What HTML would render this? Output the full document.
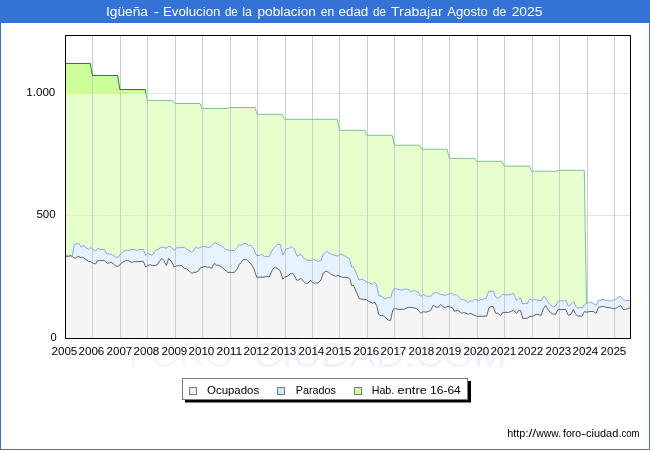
<!DOCTYPE html>
<html><head><meta charset="utf-8"><title>Chart</title>
<style>html,body{margin:0;padding:0;background:#fff;}svg{display:block;will-change:transform;}text{font-family:"Liberation Sans",sans-serif;}</style>
</head><body>
<svg width="650" height="450" viewBox="0 0 650 450">
<rect x="0" y="0" width="650" height="450" fill="#ffffff"/>
<rect x="0" y="0" width="650" height="23" fill="#3472d6"/>
<rect x="0" y="0" width="1" height="450" fill="#3472d6"/>
<rect x="649" y="0" width="1" height="450" fill="#3472d6"/>
<rect x="0" y="449" width="650" height="1" fill="#3472d6"/>
<text x="106.0" y="16" font-size="12.3" fill="#ffffff" textLength="41.9" lengthAdjust="spacingAndGlyphs">Igüeña</text>
<text x="153.6" y="16" font-size="12.3" fill="#ffffff" textLength="5.6" lengthAdjust="spacingAndGlyphs">-</text>
<text x="162.9" y="16" font-size="12.3" fill="#ffffff" textLength="57.6" lengthAdjust="spacingAndGlyphs">Evolucion</text>
<text x="224.9" y="16" font-size="12.3" fill="#ffffff" textLength="12.8" lengthAdjust="spacingAndGlyphs">de</text>
<text x="242.2" y="16" font-size="12.3" fill="#ffffff" textLength="9.8" lengthAdjust="spacingAndGlyphs">la</text>
<text x="257.5" y="16" font-size="12.3" fill="#ffffff" textLength="58.3" lengthAdjust="spacingAndGlyphs">poblacion</text>
<text x="320.8" y="16" font-size="12.3" fill="#ffffff" textLength="13.5" lengthAdjust="spacingAndGlyphs">en</text>
<text x="338.5" y="16" font-size="12.3" fill="#ffffff" textLength="29.8" lengthAdjust="spacingAndGlyphs">edad</text>
<text x="373.0" y="16" font-size="12.3" fill="#ffffff" textLength="13.0" lengthAdjust="spacingAndGlyphs">de</text>
<text x="390.9" y="16" font-size="12.3" fill="#ffffff" textLength="51.8" lengthAdjust="spacingAndGlyphs">Trabajar</text>
<text x="447.2" y="16" font-size="12.3" fill="#ffffff" textLength="40.6" lengthAdjust="spacingAndGlyphs">Agosto</text>
<text x="492.7" y="16" font-size="12.3" fill="#ffffff" textLength="13.5" lengthAdjust="spacingAndGlyphs">de</text>
<text x="511.7" y="16" font-size="12.3" fill="#ffffff" textLength="30.7" lengthAdjust="spacingAndGlyphs">2025</text>
<text x="128.5" y="367" font-size="35" fill="#f6f6f6" textLength="105" lengthAdjust="spacingAndGlyphs">FORO</text>
<text x="253.5" y="367" font-size="35" fill="#f1f1ff" textLength="253" lengthAdjust="spacingAndGlyphs">CIUDAD.COM</text>
<defs>
<clipPath id="cp"><rect x="65.5" y="35.5" width="565" height="303"/></clipPath>
<clipPath id="ctop"><rect x="65.5" y="35.5" width="565" height="58"/></clipPath>
<clipPath id="cbot"><rect x="65.5" y="93.5" width="565" height="245"/></clipPath>
</defs>
<g clip-path="url(#cp)">
<polygon points="65.5,255.8 68.3,256.4 70.6,255.6 72.2,256.4 74.8,258.4 76.7,257.2 78.9,256.4 81.1,258.0 82.8,257.2 85.6,259.4 88.3,261.3 90.6,261.7 93.3,263.3 95.6,263.9 97.8,260.6 104.4,260.6 107.2,263.0 109.4,263.0 111.1,262.2 113.3,263.9 116.1,266.3 118.9,266.1 121.1,263.3 123.9,261.4 127.2,260.2 131.7,262.4 134.4,261.7 143.3,261.4 145.8,267.2 147.6,265.6 150.0,264.7 152.2,265.6 156.7,265.3 161.7,258.3 163.9,260.6 166.4,265.6 168.7,258.3 171.1,261.1 174.4,267.0 176.7,265.8 181.7,265.6 184.4,268.3 186.9,268.9 191.7,273.3 193.9,272.4 196.7,272.0 198.3,271.1 200.6,267.8 205.0,266.4 207.2,267.2 209.4,267.2 211.7,268.3 214.4,263.3 216.7,265.3 218.9,265.3 221.3,266.7 227.8,272.4 234.4,272.4 237.2,268.9 239.4,264.4 243.6,259.4 246.4,259.4 248.9,261.7 251.7,265.0 253.9,268.9 256.7,277.2 263.9,277.2 266.7,276.1 269.1,277.2 272.2,270.3 274.4,267.4 277.2,268.3 280.1,270.6 282.8,279.2 284.4,277.2 287.8,276.1 290.6,273.6 293.3,273.9 296.7,280.2 298.9,279.8 301.1,278.3 303.3,281.1 305.6,283.3 307.8,283.3 310.6,280.2 313.3,283.1 317.8,283.1 321.1,280.0 323.3,272.8 326.1,271.1 328.3,272.2 331.1,274.4 335.6,276.3 337.8,275.4 341.7,277.2 347.8,277.5 350.0,279.4 351.7,285.6 353.5,285.6 356.1,291.1 358.9,298.3 361.1,299.1 366.1,299.4 368.3,301.1 372.8,303.3 374.7,302.2 376.7,305.6 378.7,314.4 381.1,315.9 382.8,315.2 385.6,317.8 388.3,320.3 390.6,320.3 392.8,310.0 394.4,308.3 397.8,309.2 400.0,309.4 404.4,309.2 407.8,307.4 411.1,307.4 416.1,308.3 418.3,310.3 420.9,313.3 423.3,311.7 426.1,312.2 430.6,310.6 433.3,305.2 436.1,307.2 438.3,307.2 440.6,304.4 442.8,306.7 445.6,307.6 447.8,306.4 452.2,307.6 454.4,311.1 457.8,310.3 461.7,313.3 464.4,312.5 468.5,314.4 470.0,313.3 477.2,316.4 486.7,316.1 488.9,307.8 491.1,306.4 493.3,306.7 495.6,313.3 497.8,313.3 500.6,315.6 502.8,312.4 508.9,312.4 513.3,310.2 516.7,313.3 518.9,310.2 520.7,310.6 522.8,318.3 527.2,318.3 530.0,316.4 532.8,316.1 536.7,314.2 541.1,315.3 543.3,308.9 545.6,305.6 548.3,310.0 550.6,312.8 553.3,314.2 555.6,314.2 557.8,309.8 565.6,309.4 568.3,315.3 571.1,314.2 573.3,309.4 575.6,314.2 577.8,316.1 582.2,316.1 584.4,311.5 586.4,312.2 588.9,311.7 593.3,311.4 596.1,313.3 598.6,307.2 603.3,306.4 605.6,307.2 610.6,307.8 612.8,308.6 615.6,308.6 617.8,307.2 620.6,305.6 623.3,309.4 625.6,309.4 630.0,307.8 630.5,338.5 65.5,338.5" fill="#f5f5f5"/>
<polygon points="65.5,255.8 68.3,256.4 70.6,255.6 72.2,256.4 74.4,244.4 76.7,243.9 79.1,243.3 81.1,247.2 83.1,245.3 86.1,247.8 88.7,249.4 90.6,247.2 93.1,249.4 95.6,251.1 97.8,248.3 100.0,249.4 104.4,249.4 106.7,253.9 111.1,254.2 115.6,257.0 118.3,257.2 120.6,253.9 123.3,251.5 126.1,250.4 128.9,250.3 133.9,249.2 136.4,250.6 138.3,249.7 143.3,249.4 145.8,255.6 147.8,253.3 152.2,255.3 156.1,250.0 161.1,247.4 163.9,247.2 166.1,248.3 168.9,246.1 171.1,247.2 174.4,250.2 176.7,247.8 184.4,247.4 191.7,252.4 193.3,251.1 195.6,247.4 198.3,248.3 201.7,246.7 205.0,246.4 207.2,247.4 210.0,247.2 215.0,242.2 217.2,243.9 219.4,245.0 222.2,246.1 225.6,249.4 228.9,250.2 234.4,250.6 236.7,248.3 239.4,244.4 241.1,245.3 243.9,243.3 246.4,243.6 248.5,245.3 251.1,245.6 253.3,248.3 256.7,255.6 259.4,255.3 261.7,254.4 264.4,256.4 269.4,256.4 271.7,251.1 274.4,247.2 277.8,244.4 280.2,244.4 282.8,255.0 286.1,248.9 288.9,248.3 291.3,246.4 294.4,248.9 296.9,256.1 301.1,254.4 303.6,258.0 306.7,260.0 311.7,260.6 313.9,259.4 317.8,261.3 321.1,260.6 323.3,253.9 326.7,251.3 331.1,254.2 335.0,255.3 337.8,256.1 340.2,254.2 343.9,255.3 346.7,257.2 349.4,258.7 351.7,267.2 353.3,267.2 356.1,272.8 358.9,280.0 362.2,279.1 366.1,281.5 368.5,282.7 372.5,284.2 374.5,282.2 376.7,285.0 378.7,295.6 381.7,296.3 385.6,299.1 388.3,297.2 390.6,298.1 392.2,292.2 394.4,288.3 397.8,289.2 401.7,290.2 404.4,289.2 408.3,289.2 410.6,292.2 413.3,290.3 417.8,291.9 420.6,296.3 423.3,294.4 426.7,296.3 431.1,296.1 433.3,293.3 436.1,292.2 440.6,294.4 445.6,295.3 447.8,294.4 451.7,293.3 454.4,295.3 456.1,294.4 458.9,297.2 461.7,300.0 463.3,299.2 468.3,302.4 470.6,300.6 472.2,301.4 475.0,299.1 478.3,300.6 482.2,299.4 486.1,298.3 488.7,291.3 493.3,291.3 495.6,297.2 497.8,298.3 500.6,296.7 502.8,294.2 505.0,295.0 511.1,294.4 513.3,293.3 516.7,300.6 518.9,298.3 520.7,298.3 522.8,304.0 525.6,303.2 527.2,304.0 529.4,299.4 531.1,299.4 532.2,300.6 534.4,299.4 536.7,300.2 541.1,300.6 543.6,296.4 545.6,297.8 548.3,302.8 550.6,304.7 552.8,307.0 555.6,306.1 557.8,301.7 560.6,300.6 563.3,301.1 565.8,300.3 568.3,306.1 571.1,304.4 573.6,301.4 575.6,306.1 577.8,308.3 580.3,307.2 582.5,308.0 584.4,304.7 586.7,303.2 588.9,302.2 591.7,302.4 596.1,305.3 598.3,300.6 603.3,299.4 605.6,300.3 607.8,300.3 610.0,301.3 612.8,300.0 615.6,299.4 618.3,297.2 620.8,296.4 623.3,300.0 625.6,300.6 630.0,300.6 630.0,307.8 625.6,309.4 623.3,309.4 620.6,305.6 617.8,307.2 615.6,308.6 612.8,308.6 610.6,307.8 605.6,307.2 603.3,306.4 598.6,307.2 596.1,313.3 593.3,311.4 588.9,311.7 586.4,312.2 584.4,311.5 582.2,316.1 577.8,316.1 575.6,314.2 573.3,309.4 571.1,314.2 568.3,315.3 565.6,309.4 557.8,309.8 555.6,314.2 553.3,314.2 550.6,312.8 548.3,310.0 545.6,305.6 543.3,308.9 541.1,315.3 536.7,314.2 532.8,316.1 530.0,316.4 527.2,318.3 522.8,318.3 520.7,310.6 518.9,310.2 516.7,313.3 513.3,310.2 508.9,312.4 502.8,312.4 500.6,315.6 497.8,313.3 495.6,313.3 493.3,306.7 491.1,306.4 488.9,307.8 486.7,316.1 477.2,316.4 470.0,313.3 468.5,314.4 464.4,312.5 461.7,313.3 457.8,310.3 454.4,311.1 452.2,307.6 447.8,306.4 445.6,307.6 442.8,306.7 440.6,304.4 438.3,307.2 436.1,307.2 433.3,305.2 430.6,310.6 426.1,312.2 423.3,311.7 420.9,313.3 418.3,310.3 416.1,308.3 411.1,307.4 407.8,307.4 404.4,309.2 400.0,309.4 397.8,309.2 394.4,308.3 392.8,310.0 390.6,320.3 388.3,320.3 385.6,317.8 382.8,315.2 381.1,315.9 378.7,314.4 376.7,305.6 374.7,302.2 372.8,303.3 368.3,301.1 366.1,299.4 361.1,299.1 358.9,298.3 356.1,291.1 353.5,285.6 351.7,285.6 350.0,279.4 347.8,277.5 341.7,277.2 337.8,275.4 335.6,276.3 331.1,274.4 328.3,272.2 326.1,271.1 323.3,272.8 321.1,280.0 317.8,283.1 313.3,283.1 310.6,280.2 307.8,283.3 305.6,283.3 303.3,281.1 301.1,278.3 298.9,279.8 296.7,280.2 293.3,273.9 290.6,273.6 287.8,276.1 284.4,277.2 282.8,279.2 280.1,270.6 277.2,268.3 274.4,267.4 272.2,270.3 269.1,277.2 266.7,276.1 263.9,277.2 256.7,277.2 253.9,268.9 251.7,265.0 248.9,261.7 246.4,259.4 243.6,259.4 239.4,264.4 237.2,268.9 234.4,272.4 227.8,272.4 221.3,266.7 218.9,265.3 216.7,265.3 214.4,263.3 211.7,268.3 209.4,267.2 207.2,267.2 205.0,266.4 200.6,267.8 198.3,271.1 196.7,272.0 193.9,272.4 191.7,273.3 186.9,268.9 184.4,268.3 181.7,265.6 176.7,265.8 174.4,267.0 171.1,261.1 168.7,258.3 166.4,265.6 163.9,260.6 161.7,258.3 156.7,265.3 152.2,265.6 150.0,264.7 147.6,265.6 145.8,267.2 143.3,261.4 134.4,261.7 131.7,262.4 127.2,260.2 123.9,261.4 121.1,263.3 118.9,266.1 116.1,266.3 113.3,263.9 111.1,262.2 109.4,263.0 107.2,263.0 104.4,260.6 97.8,260.6 95.6,263.9 93.3,263.3 90.6,261.7 88.3,261.3 85.6,259.4 82.8,257.2 81.1,258.0 78.9,256.4 76.7,257.2 74.8,258.4 72.2,256.4 70.6,255.6 68.3,256.4 65.5,255.8" fill="#e6f2ff"/>
<g clip-path="url(#cbot)"><polygon points="65.5,63.5 90.2,63.5 92.5,75.5 117.6,75.5 119.9,89.5 145.1,89.5 147.3,100.4 172.5,100.4 174.8,103.5 200.0,103.5 202.2,108.5 227.4,108.5 229.7,107.5 254.9,107.5 257.1,114.3 282.3,114.3 284.6,119.3 309.8,119.3 312.0,119.3 337.2,119.3 339.5,130.3 364.7,130.3 366.9,135.3 392.1,135.3 394.4,145.2 419.6,145.2 421.8,149.2 447.0,149.2 449.3,158.4 474.5,158.4 476.8,161.3 501.9,161.3 504.2,166.1 529.4,166.1 531.6,171.2 556.8,171.2 559.1,170.3 584.3,170.3 586.5,303.3 584.4,304.7 582.5,308.0 580.3,307.2 577.8,308.3 575.6,306.1 573.6,301.4 571.1,304.4 568.3,306.1 565.8,300.3 563.3,301.1 560.6,300.6 557.8,301.7 555.6,306.1 552.8,307.0 550.6,304.7 548.3,302.8 545.6,297.8 543.6,296.4 541.1,300.6 536.7,300.2 534.4,299.4 532.2,300.6 531.1,299.4 529.4,299.4 527.2,304.0 525.6,303.2 522.8,304.0 520.7,298.3 518.9,298.3 516.7,300.6 513.3,293.3 511.1,294.4 505.0,295.0 502.8,294.2 500.6,296.7 497.8,298.3 495.6,297.2 493.3,291.3 488.7,291.3 486.1,298.3 482.2,299.4 478.3,300.6 475.0,299.1 472.2,301.4 470.6,300.6 468.3,302.4 463.3,299.2 461.7,300.0 458.9,297.2 456.1,294.4 454.4,295.3 451.7,293.3 447.8,294.4 445.6,295.3 440.6,294.4 436.1,292.2 433.3,293.3 431.1,296.1 426.7,296.3 423.3,294.4 420.6,296.3 417.8,291.9 413.3,290.3 410.6,292.2 408.3,289.2 404.4,289.2 401.7,290.2 397.8,289.2 394.4,288.3 392.2,292.2 390.6,298.1 388.3,297.2 385.6,299.1 381.7,296.3 378.7,295.6 376.7,285.0 374.5,282.2 372.5,284.2 368.5,282.7 366.1,281.5 362.2,279.1 358.9,280.0 356.1,272.8 353.3,267.2 351.7,267.2 349.4,258.7 346.7,257.2 343.9,255.3 340.2,254.2 337.8,256.1 335.0,255.3 331.1,254.2 326.7,251.3 323.3,253.9 321.1,260.6 317.8,261.3 313.9,259.4 311.7,260.6 306.7,260.0 303.6,258.0 301.1,254.4 296.9,256.1 294.4,248.9 291.3,246.4 288.9,248.3 286.1,248.9 282.8,255.0 280.2,244.4 277.8,244.4 274.4,247.2 271.7,251.1 269.4,256.4 264.4,256.4 261.7,254.4 259.4,255.3 256.7,255.6 253.3,248.3 251.1,245.6 248.5,245.3 246.4,243.6 243.9,243.3 241.1,245.3 239.4,244.4 236.7,248.3 234.4,250.6 228.9,250.2 225.6,249.4 222.2,246.1 219.4,245.0 217.2,243.9 215.0,242.2 210.0,247.2 207.2,247.4 205.0,246.4 201.7,246.7 198.3,248.3 195.6,247.4 193.3,251.1 191.7,252.4 184.4,247.4 176.7,247.8 174.4,250.2 171.1,247.2 168.9,246.1 166.1,248.3 163.9,247.2 161.1,247.4 156.1,250.0 152.2,255.3 147.8,253.3 145.8,255.6 143.3,249.4 138.3,249.7 136.4,250.6 133.9,249.2 128.9,250.3 126.1,250.4 123.3,251.5 120.6,253.9 118.3,257.2 115.6,257.0 111.1,254.2 106.7,253.9 104.4,249.4 100.0,249.4 97.8,248.3 95.6,251.1 93.1,249.4 90.6,247.2 88.7,249.4 86.1,247.8 83.1,245.3 81.1,247.2 79.1,243.3 76.7,243.9 74.4,244.4 72.2,256.4 70.6,255.6 68.3,256.4 65.5,255.8" fill="#e6ffcc"/></g>
<g clip-path="url(#ctop)"><polygon points="65.5,63.5 90.2,63.5 92.5,75.5 117.6,75.5 119.9,89.5 145.1,89.5 147.3,100.4 172.5,100.4 174.8,103.5 200.0,103.5 202.2,108.5 227.4,108.5 229.7,107.5 254.9,107.5 257.1,114.3 282.3,114.3 284.6,119.3 309.8,119.3 312.0,119.3 337.2,119.3 339.5,130.3 364.7,130.3 366.9,135.3 392.1,135.3 394.4,145.2 419.6,145.2 421.8,149.2 447.0,149.2 449.3,158.4 474.5,158.4 476.8,161.3 501.9,161.3 504.2,166.1 529.4,166.1 531.6,171.2 556.8,171.2 559.1,170.3 584.3,170.3 586.5,303.3 584.4,304.7 582.5,308.0 580.3,307.2 577.8,308.3 575.6,306.1 573.6,301.4 571.1,304.4 568.3,306.1 565.8,300.3 563.3,301.1 560.6,300.6 557.8,301.7 555.6,306.1 552.8,307.0 550.6,304.7 548.3,302.8 545.6,297.8 543.6,296.4 541.1,300.6 536.7,300.2 534.4,299.4 532.2,300.6 531.1,299.4 529.4,299.4 527.2,304.0 525.6,303.2 522.8,304.0 520.7,298.3 518.9,298.3 516.7,300.6 513.3,293.3 511.1,294.4 505.0,295.0 502.8,294.2 500.6,296.7 497.8,298.3 495.6,297.2 493.3,291.3 488.7,291.3 486.1,298.3 482.2,299.4 478.3,300.6 475.0,299.1 472.2,301.4 470.6,300.6 468.3,302.4 463.3,299.2 461.7,300.0 458.9,297.2 456.1,294.4 454.4,295.3 451.7,293.3 447.8,294.4 445.6,295.3 440.6,294.4 436.1,292.2 433.3,293.3 431.1,296.1 426.7,296.3 423.3,294.4 420.6,296.3 417.8,291.9 413.3,290.3 410.6,292.2 408.3,289.2 404.4,289.2 401.7,290.2 397.8,289.2 394.4,288.3 392.2,292.2 390.6,298.1 388.3,297.2 385.6,299.1 381.7,296.3 378.7,295.6 376.7,285.0 374.5,282.2 372.5,284.2 368.5,282.7 366.1,281.5 362.2,279.1 358.9,280.0 356.1,272.8 353.3,267.2 351.7,267.2 349.4,258.7 346.7,257.2 343.9,255.3 340.2,254.2 337.8,256.1 335.0,255.3 331.1,254.2 326.7,251.3 323.3,253.9 321.1,260.6 317.8,261.3 313.9,259.4 311.7,260.6 306.7,260.0 303.6,258.0 301.1,254.4 296.9,256.1 294.4,248.9 291.3,246.4 288.9,248.3 286.1,248.9 282.8,255.0 280.2,244.4 277.8,244.4 274.4,247.2 271.7,251.1 269.4,256.4 264.4,256.4 261.7,254.4 259.4,255.3 256.7,255.6 253.3,248.3 251.1,245.6 248.5,245.3 246.4,243.6 243.9,243.3 241.1,245.3 239.4,244.4 236.7,248.3 234.4,250.6 228.9,250.2 225.6,249.4 222.2,246.1 219.4,245.0 217.2,243.9 215.0,242.2 210.0,247.2 207.2,247.4 205.0,246.4 201.7,246.7 198.3,248.3 195.6,247.4 193.3,251.1 191.7,252.4 184.4,247.4 176.7,247.8 174.4,250.2 171.1,247.2 168.9,246.1 166.1,248.3 163.9,247.2 161.1,247.4 156.1,250.0 152.2,255.3 147.8,253.3 145.8,255.6 143.3,249.4 138.3,249.7 136.4,250.6 133.9,249.2 128.9,250.3 126.1,250.4 123.3,251.5 120.6,253.9 118.3,257.2 115.6,257.0 111.1,254.2 106.7,253.9 104.4,249.4 100.0,249.4 97.8,248.3 95.6,251.1 93.1,249.4 90.6,247.2 88.7,249.4 86.1,247.8 83.1,245.3 81.1,247.2 79.1,243.3 76.7,243.9 74.4,244.4 72.2,256.4 70.6,255.6 68.3,256.4 65.5,255.8" fill="#ccff99"/></g>
</g>
<rect x="66" y="93" width="564" height="1" fill="#e2e2e2"/>
<rect x="66" y="215" width="564" height="1" fill="#e2e2e2"/>
<rect x="92" y="36" width="1" height="302" fill="#cdcdcd"/>
<rect x="120" y="36" width="1" height="302" fill="#cdcdcd"/>
<rect x="147" y="36" width="1" height="302" fill="#cdcdcd"/>
<rect x="175" y="36" width="1" height="302" fill="#cdcdcd"/>
<rect x="202" y="36" width="1" height="302" fill="#cdcdcd"/>
<rect x="230" y="36" width="1" height="302" fill="#cdcdcd"/>
<rect x="257" y="36" width="1" height="302" fill="#cdcdcd"/>
<rect x="285" y="36" width="1" height="302" fill="#cdcdcd"/>
<rect x="312" y="36" width="1" height="302" fill="#cdcdcd"/>
<rect x="339" y="36" width="1" height="302" fill="#cdcdcd"/>
<rect x="367" y="36" width="1" height="302" fill="#cdcdcd"/>
<rect x="394" y="36" width="1" height="302" fill="#cdcdcd"/>
<rect x="422" y="36" width="1" height="302" fill="#cdcdcd"/>
<rect x="449" y="36" width="1" height="302" fill="#cdcdcd"/>
<rect x="477" y="36" width="1" height="302" fill="#cdcdcd"/>
<rect x="504" y="36" width="1" height="302" fill="#cdcdcd"/>
<rect x="532" y="36" width="1" height="302" fill="#cdcdcd"/>
<rect x="559" y="36" width="1" height="302" fill="#cdcdcd"/>
<rect x="587" y="36" width="1" height="302" fill="#cdcdcd"/>
<rect x="614" y="36" width="1" height="302" fill="#cdcdcd"/>
<g clip-path="url(#cp)" fill="none" stroke-linejoin="round" stroke-linecap="round">
<g clip-path="url(#cbot)"><polyline points="65.5,63.5 90.2,63.5 92.5,75.5 117.6,75.5 119.9,89.5 145.1,89.5 147.3,100.4 172.5,100.4 174.8,103.5 200.0,103.5 202.2,108.5 227.4,108.5 229.7,107.5 254.9,107.5 257.1,114.3 282.3,114.3 284.6,119.3 309.8,119.3 312.0,119.3 337.2,119.3 339.5,130.3 364.7,130.3 366.9,135.3 392.1,135.3 394.4,145.2 419.6,145.2 421.8,149.2 447.0,149.2 449.3,158.4 474.5,158.4 476.8,161.3 501.9,161.3 504.2,166.1 529.4,166.1 531.6,171.2 556.8,171.2 559.1,170.3 584.3,170.3 586.5,303.3" stroke="#7cc39a" stroke-width="1"/></g>
<g clip-path="url(#ctop)"><polyline points="65.5,63.5 90.2,63.5 92.5,75.5 117.6,75.5 119.9,89.5 145.1,89.5 147.3,100.4 172.5,100.4 174.8,103.5 200.0,103.5 202.2,108.5 227.4,108.5 229.7,107.5 254.9,107.5 257.1,114.3 282.3,114.3 284.6,119.3 309.8,119.3 312.0,119.3 337.2,119.3 339.5,130.3 364.7,130.3 366.9,135.3 392.1,135.3 394.4,145.2 419.6,145.2 421.8,149.2 447.0,149.2 449.3,158.4 474.5,158.4 476.8,161.3 501.9,161.3 504.2,166.1 529.4,166.1 531.6,171.2 556.8,171.2 559.1,170.3 584.3,170.3 586.5,303.3" stroke="#0c8a42" stroke-width="1.05"/></g>
<polyline points="65.5,255.8 68.3,256.4 70.6,255.6 72.2,256.4 74.4,244.4 76.7,243.9 79.1,243.3 81.1,247.2 83.1,245.3 86.1,247.8 88.7,249.4 90.6,247.2 93.1,249.4 95.6,251.1 97.8,248.3 100.0,249.4 104.4,249.4 106.7,253.9 111.1,254.2 115.6,257.0 118.3,257.2 120.6,253.9 123.3,251.5 126.1,250.4 128.9,250.3 133.9,249.2 136.4,250.6 138.3,249.7 143.3,249.4 145.8,255.6 147.8,253.3 152.2,255.3 156.1,250.0 161.1,247.4 163.9,247.2 166.1,248.3 168.9,246.1 171.1,247.2 174.4,250.2 176.7,247.8 184.4,247.4 191.7,252.4 193.3,251.1 195.6,247.4 198.3,248.3 201.7,246.7 205.0,246.4 207.2,247.4 210.0,247.2 215.0,242.2 217.2,243.9 219.4,245.0 222.2,246.1 225.6,249.4 228.9,250.2 234.4,250.6 236.7,248.3 239.4,244.4 241.1,245.3 243.9,243.3 246.4,243.6 248.5,245.3 251.1,245.6 253.3,248.3 256.7,255.6 259.4,255.3 261.7,254.4 264.4,256.4 269.4,256.4 271.7,251.1 274.4,247.2 277.8,244.4 280.2,244.4 282.8,255.0 286.1,248.9 288.9,248.3 291.3,246.4 294.4,248.9 296.9,256.1 301.1,254.4 303.6,258.0 306.7,260.0 311.7,260.6 313.9,259.4 317.8,261.3 321.1,260.6 323.3,253.9 326.7,251.3 331.1,254.2 335.0,255.3 337.8,256.1 340.2,254.2 343.9,255.3 346.7,257.2 349.4,258.7 351.7,267.2 353.3,267.2 356.1,272.8 358.9,280.0 362.2,279.1 366.1,281.5 368.5,282.7 372.5,284.2 374.5,282.2 376.7,285.0 378.7,295.6 381.7,296.3 385.6,299.1 388.3,297.2 390.6,298.1 392.2,292.2 394.4,288.3 397.8,289.2 401.7,290.2 404.4,289.2 408.3,289.2 410.6,292.2 413.3,290.3 417.8,291.9 420.6,296.3 423.3,294.4 426.7,296.3 431.1,296.1 433.3,293.3 436.1,292.2 440.6,294.4 445.6,295.3 447.8,294.4 451.7,293.3 454.4,295.3 456.1,294.4 458.9,297.2 461.7,300.0 463.3,299.2 468.3,302.4 470.6,300.6 472.2,301.4 475.0,299.1 478.3,300.6 482.2,299.4 486.1,298.3 488.7,291.3 493.3,291.3 495.6,297.2 497.8,298.3 500.6,296.7 502.8,294.2 505.0,295.0 511.1,294.4 513.3,293.3 516.7,300.6 518.9,298.3 520.7,298.3 522.8,304.0 525.6,303.2 527.2,304.0 529.4,299.4 531.1,299.4 532.2,300.6 534.4,299.4 536.7,300.2 541.1,300.6 543.6,296.4 545.6,297.8 548.3,302.8 550.6,304.7 552.8,307.0 555.6,306.1 557.8,301.7 560.6,300.6 563.3,301.1 565.8,300.3 568.3,306.1 571.1,304.4 573.6,301.4 575.6,306.1 577.8,308.3 580.3,307.2 582.5,308.0 584.4,304.7 586.7,303.2 588.9,302.2 591.7,302.4 596.1,305.3 598.3,300.6 603.3,299.4 605.6,300.3 607.8,300.3 610.0,301.3 612.8,300.0 615.6,299.4 618.3,297.2 620.8,296.4 623.3,300.0 625.6,300.6 630.0,300.6" stroke="#7ba5eb" stroke-width="0.95"/>
<polyline points="65.5,255.8 68.3,256.4 70.6,255.6 72.2,256.4 74.8,258.4 76.7,257.2 78.9,256.4 81.1,258.0 82.8,257.2 85.6,259.4 88.3,261.3 90.6,261.7 93.3,263.3 95.6,263.9 97.8,260.6 104.4,260.6 107.2,263.0 109.4,263.0 111.1,262.2 113.3,263.9 116.1,266.3 118.9,266.1 121.1,263.3 123.9,261.4 127.2,260.2 131.7,262.4 134.4,261.7 143.3,261.4 145.8,267.2 147.6,265.6 150.0,264.7 152.2,265.6 156.7,265.3 161.7,258.3 163.9,260.6 166.4,265.6 168.7,258.3 171.1,261.1 174.4,267.0 176.7,265.8 181.7,265.6 184.4,268.3 186.9,268.9 191.7,273.3 193.9,272.4 196.7,272.0 198.3,271.1 200.6,267.8 205.0,266.4 207.2,267.2 209.4,267.2 211.7,268.3 214.4,263.3 216.7,265.3 218.9,265.3 221.3,266.7 227.8,272.4 234.4,272.4 237.2,268.9 239.4,264.4 243.6,259.4 246.4,259.4 248.9,261.7 251.7,265.0 253.9,268.9 256.7,277.2 263.9,277.2 266.7,276.1 269.1,277.2 272.2,270.3 274.4,267.4 277.2,268.3 280.1,270.6 282.8,279.2 284.4,277.2 287.8,276.1 290.6,273.6 293.3,273.9 296.7,280.2 298.9,279.8 301.1,278.3 303.3,281.1 305.6,283.3 307.8,283.3 310.6,280.2 313.3,283.1 317.8,283.1 321.1,280.0 323.3,272.8 326.1,271.1 328.3,272.2 331.1,274.4 335.6,276.3 337.8,275.4 341.7,277.2 347.8,277.5 350.0,279.4 351.7,285.6 353.5,285.6 356.1,291.1 358.9,298.3 361.1,299.1 366.1,299.4 368.3,301.1 372.8,303.3 374.7,302.2 376.7,305.6 378.7,314.4 381.1,315.9 382.8,315.2 385.6,317.8 388.3,320.3 390.6,320.3 392.8,310.0 394.4,308.3 397.8,309.2 400.0,309.4 404.4,309.2 407.8,307.4 411.1,307.4 416.1,308.3 418.3,310.3 420.9,313.3 423.3,311.7 426.1,312.2 430.6,310.6 433.3,305.2 436.1,307.2 438.3,307.2 440.6,304.4 442.8,306.7 445.6,307.6 447.8,306.4 452.2,307.6 454.4,311.1 457.8,310.3 461.7,313.3 464.4,312.5 468.5,314.4 470.0,313.3 477.2,316.4 486.7,316.1 488.9,307.8 491.1,306.4 493.3,306.7 495.6,313.3 497.8,313.3 500.6,315.6 502.8,312.4 508.9,312.4 513.3,310.2 516.7,313.3 518.9,310.2 520.7,310.6 522.8,318.3 527.2,318.3 530.0,316.4 532.8,316.1 536.7,314.2 541.1,315.3 543.3,308.9 545.6,305.6 548.3,310.0 550.6,312.8 553.3,314.2 555.6,314.2 557.8,309.8 565.6,309.4 568.3,315.3 571.1,314.2 573.3,309.4 575.6,314.2 577.8,316.1 582.2,316.1 584.4,311.5 586.4,312.2 588.9,311.7 593.3,311.4 596.1,313.3 598.6,307.2 603.3,306.4 605.6,307.2 610.6,307.8 612.8,308.6 615.6,308.6 617.8,307.2 620.6,305.6 623.3,309.4 625.6,309.4 630.0,307.8" stroke="#5c5c5c" stroke-width="0.95"/>
</g>
<rect x="65.5" y="35.5" width="565" height="303" fill="none" stroke="#000000" stroke-width="1"/>
<text x="55.3" y="96" font-size="10.3" fill="#000" text-anchor="end" textLength="29" lengthAdjust="spacingAndGlyphs">1.000</text>
<text x="55.6" y="218" font-size="10.3" fill="#000" text-anchor="end" textLength="19.2" lengthAdjust="spacingAndGlyphs">500</text>
<text x="56.8" y="340.8" font-size="10.3" fill="#000" text-anchor="end" textLength="6.2" lengthAdjust="spacingAndGlyphs">0</text>
<text x="51.5" y="354.8" font-size="10.3" fill="#000" textLength="25.8" lengthAdjust="spacingAndGlyphs">2005</text>
<text x="78.5" y="354.8" font-size="10.3" fill="#000" textLength="25.8" lengthAdjust="spacingAndGlyphs">2006</text>
<text x="106.5" y="354.8" font-size="10.3" fill="#000" textLength="25.8" lengthAdjust="spacingAndGlyphs">2007</text>
<text x="133.5" y="354.8" font-size="10.3" fill="#000" textLength="25.8" lengthAdjust="spacingAndGlyphs">2008</text>
<text x="161.5" y="354.8" font-size="10.3" fill="#000" textLength="25.8" lengthAdjust="spacingAndGlyphs">2009</text>
<text x="188.5" y="354.8" font-size="10.3" fill="#000" textLength="25.8" lengthAdjust="spacingAndGlyphs">2010</text>
<text x="216.5" y="354.8" font-size="10.3" fill="#000" textLength="25.8" lengthAdjust="spacingAndGlyphs">2011</text>
<text x="243.5" y="354.8" font-size="10.3" fill="#000" textLength="25.8" lengthAdjust="spacingAndGlyphs">2012</text>
<text x="270.5" y="354.8" font-size="10.3" fill="#000" textLength="25.8" lengthAdjust="spacingAndGlyphs">2013</text>
<text x="298.5" y="354.8" font-size="10.3" fill="#000" textLength="25.8" lengthAdjust="spacingAndGlyphs">2014</text>
<text x="325.5" y="354.8" font-size="10.3" fill="#000" textLength="25.8" lengthAdjust="spacingAndGlyphs">2015</text>
<text x="353.5" y="354.8" font-size="10.3" fill="#000" textLength="25.8" lengthAdjust="spacingAndGlyphs">2016</text>
<text x="380.5" y="354.8" font-size="10.3" fill="#000" textLength="25.8" lengthAdjust="spacingAndGlyphs">2017</text>
<text x="408.5" y="354.8" font-size="10.3" fill="#000" textLength="25.8" lengthAdjust="spacingAndGlyphs">2018</text>
<text x="435.5" y="354.8" font-size="10.3" fill="#000" textLength="25.8" lengthAdjust="spacingAndGlyphs">2019</text>
<text x="463.5" y="354.8" font-size="10.3" fill="#000" textLength="25.8" lengthAdjust="spacingAndGlyphs">2020</text>
<text x="490.5" y="354.8" font-size="10.3" fill="#000" textLength="25.8" lengthAdjust="spacingAndGlyphs">2021</text>
<text x="517.5" y="354.8" font-size="10.3" fill="#000" textLength="25.8" lengthAdjust="spacingAndGlyphs">2022</text>
<text x="545.5" y="354.8" font-size="10.3" fill="#000" textLength="25.8" lengthAdjust="spacingAndGlyphs">2023</text>
<text x="572.5" y="354.8" font-size="10.3" fill="#000" textLength="25.8" lengthAdjust="spacingAndGlyphs">2024</text>
<text x="600.5" y="354.8" font-size="10.3" fill="#000" textLength="25.8" lengthAdjust="spacingAndGlyphs">2025</text>
<rect x="185" y="381" width="286" height="21.5" fill="#000000"/>
<rect x="182.5" y="378.5" width="285" height="21" fill="#ffffff" stroke="#7a7a7a" stroke-width="1"/>
<rect x="189.5" y="387.5" width="7" height="7" fill="#eeeeee" stroke="#7a7a7a" stroke-width="1"/>
<rect x="277.5" y="387.5" width="7" height="7" fill="#cce6ff" stroke="#7a7a7a" stroke-width="1"/>
<rect x="354.5" y="387.5" width="7" height="7" fill="#ccff99" stroke="#7a7a7a" stroke-width="1"/>
<text x="207" y="394.2" font-size="11.2" fill="#000" textLength="52.2" lengthAdjust="spacingAndGlyphs">Ocupados</text>
<text x="295.7" y="394.2" font-size="11.2" fill="#000" textLength="40.3" lengthAdjust="spacingAndGlyphs">Parados</text>
<text x="371.7" y="394.2" font-size="11.2" fill="#000" textLength="22.6" lengthAdjust="spacingAndGlyphs">Hab.</text>
<text x="397.6" y="394.2" font-size="11.2" fill="#000" textLength="29.2" lengthAdjust="spacingAndGlyphs">entre</text>
<text x="430.1" y="394.2" font-size="11.2" fill="#000" textLength="30.7" lengthAdjust="spacingAndGlyphs">16-64</text>
<text x="507.3" y="437" font-size="10.2" fill="#000" textLength="21.1" lengthAdjust="spacingAndGlyphs">http:</text>
<text x="528.5" y="437" font-size="10.2" fill="#000" textLength="7.7" lengthAdjust="spacingAndGlyphs">//</text>
<text x="536.3" y="437" font-size="10.2" fill="#000" textLength="24.9" lengthAdjust="spacingAndGlyphs">www.</text>
<text x="563.1" y="437" font-size="10.2" fill="#000" textLength="18.1" lengthAdjust="spacingAndGlyphs">foro</text>
<text x="581.1" y="437" font-size="10.2" fill="#000" textLength="5.1" lengthAdjust="spacingAndGlyphs">-</text>
<text x="586.0" y="437" font-size="10.2" fill="#000" textLength="32.3" lengthAdjust="spacingAndGlyphs">ciudad</text>
<text x="618.8" y="437" font-size="10.2" fill="#000" textLength="20.7" lengthAdjust="spacingAndGlyphs">.com</text>
</svg>
</body></html>
